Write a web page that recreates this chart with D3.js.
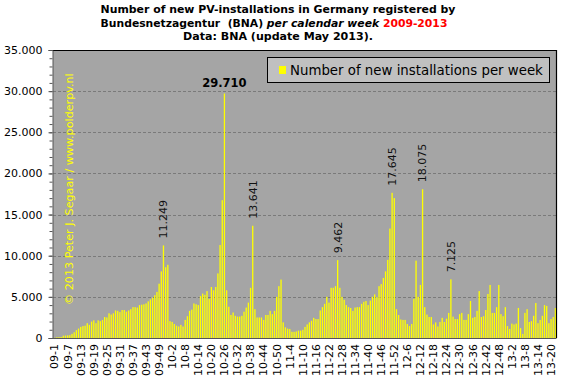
<!DOCTYPE html>
<html><head><meta charset="utf-8">
<script src="https://cdn.jsdelivr.net/npm/d3@7"></script>
<style>body{margin:0;background:#fff} svg{display:block}</style>
</head><body>
<svg id="c" width="571" height="379"></svg>
<script>
// weekly values per year (week 1 .. n)
const v2009 = [30, 90, 100, 120, 280, 300, 320, 350, 500, 700, 950, 1150, 1350, 1450, 1500, 1800, 1600, 2000, 2150, 1800, 2150, 2050, 2200, 2550, 2500, 3000, 2850, 3000, 3350, 3300, 3150, 3400, 3400, 3200, 3350, 3500, 3750, 3750, 3700, 4000, 4050, 4100, 4200, 4450, 4700, 4900, 5200, 5600, 6600, 8100, 11249, 8600, 8900];
const v2010 = [2050, 1950, 1700, 1500, 1400, 1600, 1400, 2200, 2650, 3300, 3450, 4200, 4100, 4000, 5100, 5400, 5250, 5700, 4750, 6200, 5800, 6200, 7850, 11300, 16750, 29710, 5800, 3800, 2800, 3100, 2700, 2600, 2600, 2700, 3200, 3700, 4300, 6100, 13641, 3500, 2500, 2500, 2500, 2200, 2800, 2800, 3300, 2900, 3300, 5000, 6300, 7100];
const v2011 = [1900, 1300, 1150, 1100, 750, 750, 800, 900, 900, 1000, 1350, 1650, 1900, 2100, 2450, 2300, 2300, 3350, 3750, 4150, 5000, 4300, 6100, 6100, 6300, 9462, 6100, 5000, 4650, 4000, 3750, 3650, 3300, 3700, 3750, 3750, 4150, 4400, 4500, 4000, 4550, 5000, 5300, 4950, 6300, 6550, 7300, 8100, 9500, 13300, 17645, 17000];
const v2012 = [3500, 2800, 2250, 2200, 2200, 1700, 1450, 1700, 4750, 9400, 5000, 6450, 18075, 3750, 2850, 2550, 2550, 1650, 1900, 1400, 1950, 2450, 1950, 2350, 3050, 7125, 2600, 2300, 2300, 2900, 3050, 2200, 2200, 2900, 4500, 2450, 2550, 3300, 5700, 2550, 2650, 3400, 5350, 6450, 3050, 3050, 3750, 6450, 2900, 2650, 3750, 1450];
const v2013 = [1100, 1750, 1650, 1750, 3650, 1200, 500, 3050, 3500, 1950, 2050, 2700, 4250, 1800, 2200, 2700, 4000, 3900, 1800, 2300, 2550, 3650];

const yearCodes = ["09", "10", "11", "12", "13"];
const yearValues = [v2009, v2010, v2011, v2012, v2013];

const tickLabels = ["09-1","09-7","09-13","09-19","09-25","09-31","09-37","09-43","09-49","10-2","10-8","10-14","10-20","10-26","10-32","10-38","10-44","10-50","11-4","11-10","11-16","11-22","11-28","11-34","11-40","11-46","11-52","12-6","12-12","12-18","12-24","12-30","12-36","12-42","12-48","13-2","13-8","13-14","13-20"];
const yTicks = [0, 5000, 10000, 15000, 20000, 25000, 30000, 35000];
const rotatedNotes = ["09-51", "10-39", "11-26", "11-51", "12-13", "12-26"];
const boldNote = "10-26";
const legendLabel = "Number of new installations per week";
const watermark = "\u00A9 2013 Peter J. Segaar / www.polderpv.nl";

const data = [];
yearCodes.forEach((yc, k) => yearValues[k].forEach((v, i) => data.push({cat: yc + "-" + (i + 1), value: v})));
const byCat = new Map(data.map(d => [d.cat, d.value]));

const svg = d3.select("#c");
const F = "'DejaVu Sans', Verdana, sans-serif";
const P = {left: 53, right: 556.5, top: 50, bottom: 338};

const x = d3.scaleBand().domain(data.map(d => d.cat)).range([P.left + 0.5, P.right]).paddingInner(0.4).paddingOuter(0.2);
const y = d3.scaleLinear().domain([0, 35000]).range([P.bottom, P.top]);
const fmt = d3.formatLocale({decimal: ",", thousands: ".", grouping: [3], currency: ["", ""]}).format(",d");

function fit(sel, target) {
  const fs = parseFloat(sel.attr("font-size"));
  const w = sel.node().getComputedTextLength();
  if (w > 0) sel.attr("font-size", (fs * target / w).toFixed(2));
}

// title
const t1 = svg.append("text").attr("x", 278).attr("y", 13).attr("text-anchor", "middle")
  .attr("font-family", F).attr("font-weight", "bold").attr("font-size", 12).attr("fill", "#000")
  .text("Number of new PV-installations in Germany registered by");
fit(t1, 355);
const t2 = svg.append("text").attr("x", 274).attr("y", 27).attr("text-anchor", "middle")
  .attr("font-family", F).attr("font-weight", "bold").attr("font-size", 12).attr("fill", "#000").attr("xml:space", "preserve");
t2.append("tspan").text("Bundesnetzagentur\u00A0 (BNA) ");
t2.append("tspan").attr("font-style", "italic").text("per calendar week ");
t2.append("tspan").attr("fill", "#ff0000").text("2009-2013");
fit(t2, 347);
const t3 = svg.append("text").attr("x", 278).attr("y", 40).attr("text-anchor", "middle")
  .attr("font-family", F).attr("font-weight", "bold").attr("font-size", 12).attr("fill", "#000")
  .text("Data: BNA (update May 2013).");
fit(t3, 190);

// plot background
svg.append("rect").attr("x", P.left).attr("y", P.top).attr("width", P.right - P.left).attr("height", P.bottom - P.top).attr("fill", "#a5a5a5");

// gridlines
svg.append("g").selectAll("line").data(yTicks.filter(v => v > 0 && v < 35000)).join("line")
  .attr("x1", P.left).attr("x2", P.right).attr("y1", d => Math.round(y(d)) + 0.5).attr("y2", d => Math.round(y(d)) + 0.5)
  .attr("stroke", "#7a7a7a").attr("stroke-dasharray", "3,2").attr("stroke-width", 1);

// watermark
const wm = svg.append("text").attr("transform", "translate(73,305) rotate(-90)")
  .attr("font-family", F).attr("font-size", 11).attr("fill", "#ffff00").text(watermark);
fit(wm, 232);

// bars
svg.append("g").selectAll("rect").data(data).join("rect")
  .attr("x", d => x(d.cat)).attr("width", x.bandwidth())
  .attr("y", d => y(d.value)).attr("height", d => y(0) - y(d.value))
  .attr("fill", "#ffff00");

// border top/right
svg.append("path").attr("d", `M${P.left},${P.top + 0.5}H${P.right}V${P.bottom}`).attr("fill", "none").attr("stroke", "#000").attr("stroke-width", 1.2);

// y axis
const ya = svg.append("g").attr("transform", `translate(${P.left - 0.5},0)`)
  .call(d3.axisLeft(y).tickValues(yTicks).tickFormat(fmt).tickSize(4).tickPadding(6));
ya.selectAll("text").attr("font-family", F).attr("font-size", 11).attr("fill", "#000");
ya.selectAll("line").attr("stroke", "#555");
ya.select(".domain").attr("stroke", "#555");
const ym = svg.append("g").attr("transform", `translate(${P.left - 0.5},0)`)
  .call(d3.axisLeft(y).tickValues(d3.range(0, 35001, 1000)).tickFormat("").tickSize(3));
ym.select(".domain").remove();
ym.selectAll("line").attr("stroke", "#555");

// x axis line
svg.append("line").attr("x1", P.left - 0.5).attr("x2", P.right).attr("y1", P.bottom + 0.5).attr("y2", P.bottom + 0.5).attr("stroke", "#555");

// x labels
svg.append("g").selectAll("text").data(tickLabels).join("text")
  .attr("transform", d => `translate(${x(d) + x.bandwidth() / 2},344) rotate(-90)`)
  .attr("text-anchor", "end").attr("dy", "0.35em")
  .attr("font-family", F).attr("font-size", 11).attr("fill", "#000").text(d => d);

// rotated value notes
svg.append("g").selectAll("text").data(rotatedNotes).join("text")
  .attr("transform", d => `translate(${x(d) + x.bandwidth() / 2},${y(byCat.get(d)) - 7}) rotate(-90)`)
  .attr("text-anchor", "start").attr("dy", "0.35em")
  .attr("font-family", F).attr("font-size", 11).attr("fill", "#111").text(d => fmt(byCat.get(d)));

// bold peak note
svg.append("text").attr("x", x(boldNote) + x.bandwidth() / 2).attr("y", y(byCat.get(boldNote)) - 7)
  .attr("text-anchor", "middle").attr("font-family", F).attr("font-weight", "bold").attr("font-size", 11.5)
  .attr("fill", "#000").text(fmt(byCat.get(boldNote)));

// legend
const lg = svg.append("g");
lg.append("rect").attr("x", 267.5).attr("y", 57.5).attr("width", 282).attr("height", 25).attr("fill", "#c0c0c0").attr("stroke", "#000");
lg.append("rect").attr("x", 279).attr("y", 66).attr("width", 7).attr("height", 8).attr("fill", "#ffff00");
const lt = lg.append("text").attr("x", 290).attr("y", 74.5).attr("font-family", F).attr("font-size", 12).attr("fill", "#000").text(legendLabel);
fit(lt, 253);
</script>
</body></html>
